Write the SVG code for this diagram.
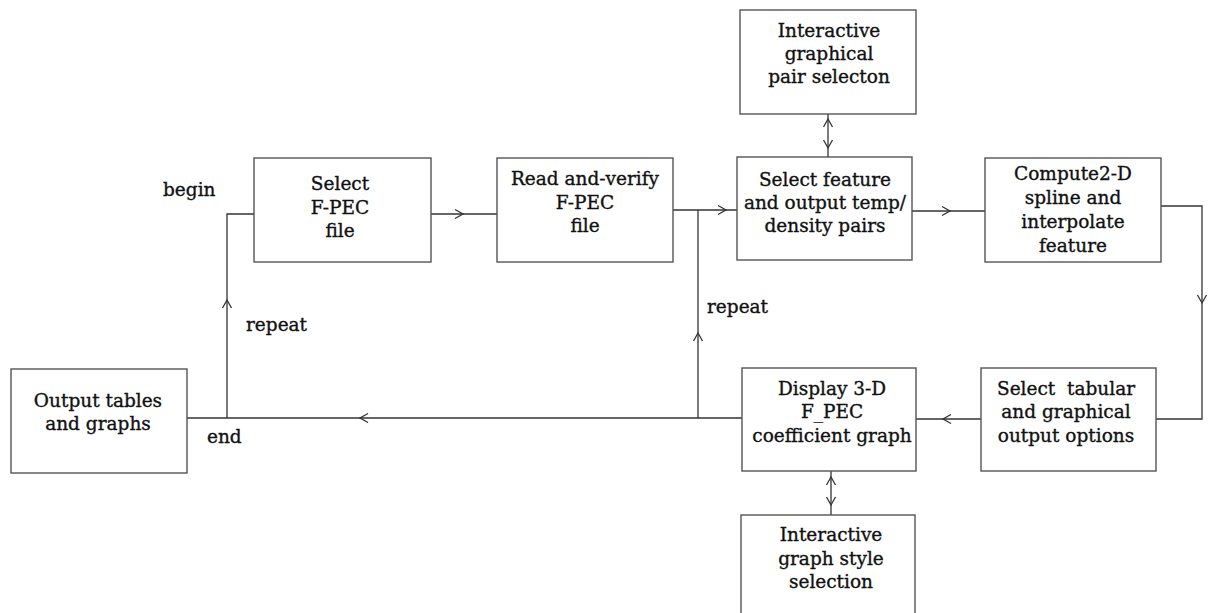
<svg xmlns="http://www.w3.org/2000/svg" xmlns:xlink="http://www.w3.org/1999/xlink" width="1209" height="613" viewBox="0 0 1209 613">
<style>
.box{fill:#fff;stroke:#555;stroke-width:1.4}
.t{font-family:"DejaVu Serif","Liberation Serif",serif;font-size:18.5px;fill:#111;stroke:#111;stroke-width:0.35;text-anchor:middle}
.lbl{font-family:"DejaVu Serif","Liberation Serif",serif;font-size:18.5px;fill:#111;stroke:#111;stroke-width:0.35}
.ln{fill:none;stroke:#333;stroke-width:1.3}
.ch{fill:none;stroke:#333;stroke-width:1.3}
</style>
<defs>
<path id="chev" d="M-8,-4.5 L0,0 L-8,4.5"/>
</defs>
<rect width="1209" height="613" fill="#fff"/>
<g id="connectors">
<path class="ln" d="M431,214 H497"/>
<use class="ch" href="#chev" transform="translate(463,214)"/>
<path class="ln" d="M673,210 H737"/>
<use class="ch" href="#chev" transform="translate(726,210)"/>
<path class="ln" d="M912,211 H985"/>
<use class="ch" href="#chev" transform="translate(950,211)"/>
<path class="ln" d="M1161,206 H1202 V419 H1156"/>
<use class="ch" href="#chev" transform="translate(1202,303) rotate(90)"/>
<path class="ln" d="M981,419 H916"/>
<use class="ch" href="#chev" transform="translate(943,419) rotate(180)"/>
<path class="ln" d="M742,418 H187"/>
<use class="ch" href="#chev" transform="translate(360,418) rotate(180)"/>
<path class="ln" d="M227,418 V214 H254"/>
<use class="ch" href="#chev" transform="translate(227,300) rotate(-90)"/>
<path class="ln" d="M698,418 V210"/>
<use class="ch" href="#chev" transform="translate(698,333) rotate(-90)"/>
<path class="ln" d="M828,114 V157"/>
<use class="ch" href="#chev" transform="translate(828,119) rotate(-90)"/>
<use class="ch" href="#chev" transform="translate(828,148) rotate(90)"/>
<path class="ln" d="M831,471 V515"/>
<use class="ch" href="#chev" transform="translate(831,477) rotate(-90)"/>
<use class="ch" href="#chev" transform="translate(831,505) rotate(90)"/>
</g>
<g id="labels">
<text class="lbl" x="163" y="196">begin</text>
<text class="lbl" x="246" y="331">repeat</text>
<text class="lbl" x="207" y="443">end</text>
<text class="lbl" x="707" y="313">repeat</text>
</g>
<g id="select-fpec">
<rect class="box" x="254" y="158" width="177" height="104"/>
<text class="t" x="340" y="190">Select</text>
<text class="t" x="340" y="214">F-PEC</text>
<text class="t" x="340" y="237">file</text>
</g>
<g id="read-verify">
<rect class="box" x="497" y="158" width="176" height="104"/>
<text class="t" x="585" y="185">Read and-verify</text>
<text class="t" x="585" y="209">F-PEC</text>
<text class="t" x="585" y="232">file</text>
</g>
<g id="interactive-pair">
<rect class="box" x="740" y="10" width="176" height="104"/>
<text class="t" x="829" y="37">Interactive</text>
<text class="t" x="829" y="60">graphical</text>
<text class="t" x="829" y="83">pair selecton</text>
</g>
<g id="select-feature">
<rect class="box" x="737" y="157" width="175" height="103"/>
<text class="t" x="825" y="186">Select feature</text>
<text class="t" x="825" y="209">and output temp/</text>
<text class="t" x="825" y="232">density pairs</text>
</g>
<g id="compute">
<rect class="box" x="985" y="158" width="176" height="104"/>
<text class="t" x="1073" y="180">Compute2-D</text>
<text class="t" x="1073" y="204">spline and</text>
<text class="t" x="1073" y="228">interpolate</text>
<text class="t" x="1073" y="252">feature</text>
</g>
<g id="select-tabular">
<rect class="box" x="981" y="368" width="175" height="103"/>
<text class="t" x="1066" y="395" xml:space="preserve">Select  tabular</text>
<text class="t" x="1066" y="418">and graphical</text>
<text class="t" x="1066" y="442">output options</text>
</g>
<g id="display-3d">
<rect class="box" x="742" y="368" width="174" height="103"/>
<text class="t" x="832" y="395">Display 3-D</text>
<text class="t" x="832" y="418">F_PEC</text>
<text class="t" x="832" y="442">coefficient graph</text>
</g>
<g id="interactive-style">
<rect class="box" x="741" y="515" width="174" height="110"/>
<text class="t" x="831" y="541">Interactive</text>
<text class="t" x="831" y="565">graph style</text>
<text class="t" x="831" y="588">selection</text>
</g>
<g id="output-tables">
<rect class="box" x="11" y="369" width="176" height="104"/>
<text class="t" x="98" y="407">Output tables</text>
<text class="t" x="98" y="430">and graphs</text>
</g>
</svg>
